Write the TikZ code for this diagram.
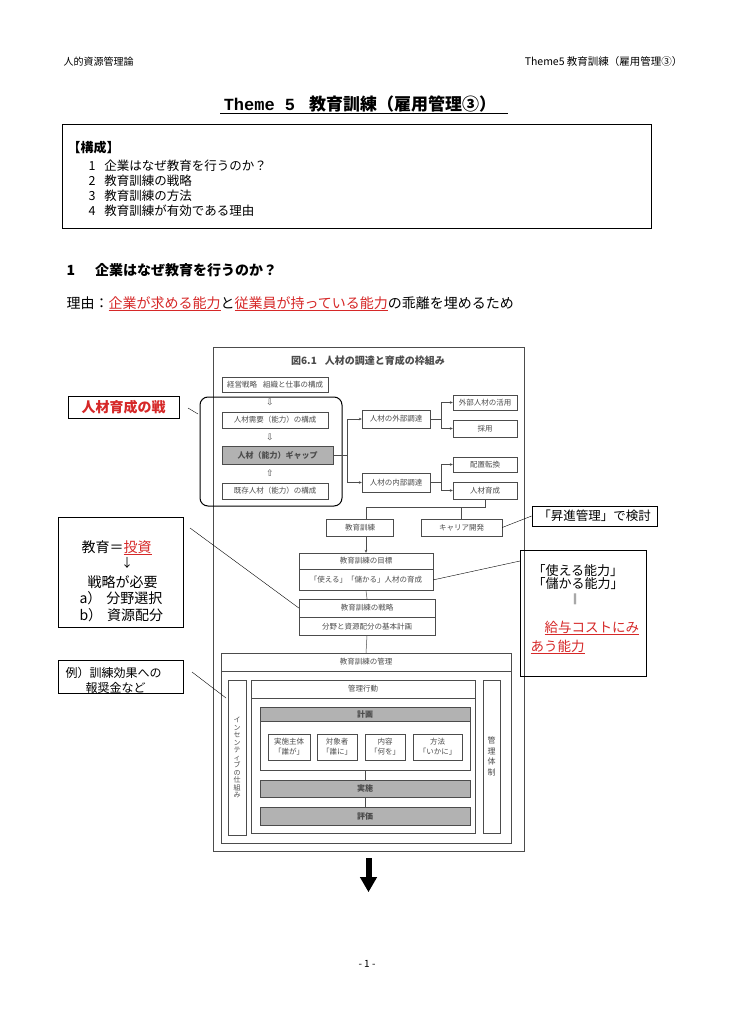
\documentclass[tikz,border=0pt]{standalone}
\usepackage{fontspec}
\setmainfont{Noto Sans CJK JP}
\newfontfamily\arrowfont{DejaVu Sans}
\newfontfamily\themefont{Liberation Mono}
\usetikzlibrary{positioning,arrows.meta}
\definecolor{scan}{gray}{0.3}
\definecolor{hired}{RGB}{214,40,40}
\newcommand{\fsz}[1]{\fontsize{#1}{#1}\selectfont}
\newcommand{\redul}[1]{\textcolor{hired}{\underline{#1}}}

\tikzset{
  sz/.style 2 args={minimum width=#1pt, minimum height=#2pt},
  figbox/.style={draw=scan, text=scan, inner sep=0pt, font=\fsz{7.5}},
  grayfill/.style={figbox, fill=black!30, font=\fsz{8}\bfseries},
  annobox/.style={draw, line width=0.8pt, inner sep=0pt},
  figline/.style={draw=scan, line width=0.5pt},
  figarrow/.style={figline, -{Stealth[length=3pt,width=2.6pt]}},
}

\begin{document}
\begin{tikzpicture}[x=1pt,y=-1pt]
    \fill[white] (0,0) rectangle (728,1030);
    \useasboundingbox (0,0) rectangle (728,1030);

    % Page header and title
    \node[anchor=west, font=\fsz{10}] (hdl) at (60,62) {人的資源管理論};
    \node[anchor=east, font=\fsz{10.5}] (hdr) at (686,62) {Theme5 教育訓練（雇用管理③）};
    \node[font=\fsz{17}\bfseries] (title) at (360,104) {{\themefont Theme 5}\hspace{14pt}教育訓練（雇用管理③）};
    \draw ([yshift=-3pt]title.base west) -- ([yshift=-3pt,xshift=8pt]title.base east);

    % Contents box
    \node[draw, line width=0.8pt, sz={589}{104}, inner sep=0pt] (kosei) at (356.5,176) {};
    \node[anchor=base west, font=\fsz{13}\bfseries] (koseihd) at (64,153) {【構成】};
    \foreach \n/\t in {1/企業はなぜ教育を行うのか？, 2/教育訓練の戦略, 3/教育訓練の方法, 4/教育訓練が有効である理由}
        \node[anchor=base west, font=\fsz{12.5}] (item\n) at (85,{155.5+15*\n}) {\n\hspace{9pt}\t};

    % Section 1
    \node[anchor=base west, font=\fsz{14}\bfseries] (sec1) at (63,275) {1\hspace{20pt}企業はなぜ教育を行うのか？};
    \node[anchor=base west, font=\fsz{14}] (riyu) at (63,308) {理由：\redul{企業が求める能力}と\redul{従業員が持っている能力}の乖離を埋めるため};

    % Figure 6.1
    \node[figbox, sz={311}{504}] (frame) at (368.5,599) {};
    \node[text=scan, font=\fsz{10}\bfseries] (figtitle) at (368,361) {図6.1\hspace{8pt}人材の調達と育成の枠組み};

    % Demand, gap and supply
    \node[figbox, sz={106}{15}] (keiei) at (275,384.5) {経営戦略\hspace{6pt}組織と仕事の構成};
    \node[figbox, sz={106}{16}] (juyo) at (275,420) {人材需要（能力）の構成};
    \node[grayfill, sz={111}{18}] (gap) at (277.5,455) {人材（能力）ギャップ};
    \node[figbox, sz={106}{16}] (kison) at (275,491) {既存人材（能力）の構成};
    \node[text=scan, font=\arrowfont\fsz{9}] (ar1) at (270,402) {⇩};
    \node[text=scan, font=\arrowfont\fsz{9}] (ar2) at (270,437.5) {⇩};
    \node[text=scan, font=\arrowfont\fsz{9}] (ar3) at (270,473.5) {⇧};
    \node[draw, line width=1pt, rounded corners=8pt, sz={142}{109}] (rr) at (271,451.5) {};

    % External and internal procurement
    \node[figbox, sz={68}{18}] (gaibu) at (396,419) {人材の外部調達};
    \node[figbox, sz={68}{19}] (naibu) at (396,482.5) {人材の内部調達};
    \node[figbox, sz={64}{15}] (katsuyo) at (485,402.5) {外部人材の活用};
    \node[figbox, sz={64}{17}] (saiyo) at (485,428.5) {採用};
    \node[figbox, sz={64}{15}] (haichi) at (485,464.5) {配置転換};
    \node[figbox, sz={64}{17}] (ikusei) at (485,490.5) {人材育成};
    \coordinate (b1) at (347,455);
    \coordinate (b2) at (441,419);
    \coordinate (b3) at (441,482.5);
    \draw[figline] (gap.east) -- (b1);
    \draw[figarrow] (b1) |- (gaibu.west);
    \draw[figarrow] (b1) |- (naibu.west);
    \draw[figline] (gaibu.east) -- (b2);
    \draw[figarrow] (b2) |- (katsuyo.west);
    \draw[figarrow] (b2) |- (saiyo.west);
    \draw[figline] (naibu.east) -- (b3);
    \draw[figarrow] (b3) |- (haichi.west);
    \draw[figarrow] (b3) |- (ikusei.west);

    % Training, goal and strategy
    \node[figbox, sz={67}{17}] (kyoiku) at (360,527.5) {教育訓練};
    \node[figbox, sz={81}{17}] (career) at (461.5,527.5) {キャリア開発};
    \node[figbox, sz={134}{16}] (mok1) at (366,561) {教育訓練の目標};
    \node[figbox, sz={134}{21}, anchor=north] (mok2) at (mok1.south) {「使える」「儲かる」人材の育成};
    \node[figbox, sz={136}{18}] (sen1) at (367,608) {教育訓練の戦略};
    \node[figbox, sz={136}{18}, anchor=north] (sen2) at (sen1.south) {分野と資源配分の基本計画};
    \coordinate (b4) at (485,507);
    \draw[figline] (ikusei.south) -- (b4) -| (kyoiku.north -| mok1.north);
    \draw[figline] (b4 -| career.north) -- (career.north);
    \draw[figarrow] (kyoiku.south -| mok1.north) -- (mok1.north);
    \draw[figline] (mok2.south) -- (sen1.north);

    % Management of training
    \node[figbox, sz={290}{190}] (kanri) at (366,748) {};
    \node[figbox, sz={290}{18}, anchor=north] (kanrihd) at (kanri.north) {教育訓練の管理};
    \draw[figline] (sen2.south) -- (kanrihd.north);
    \node[figbox, sz={18}{155}, align=center, font=\fontsize{7}{7.5}\selectfont] (incent) at (237,757.5) {イ\\ン\\セ\\ン\\テ\\ィ\\ブ\\の\\仕\\組\\み};
    \node[figbox, sz={17}{153}, align=center, font=\fontsize{8}{10.5}\selectfont] (taisei) at (491.5,756.5) {管\\理\\体\\制};
    \node[figbox, sz={224}{153}] (kodo) at (363,756.5) {};
    \node[figbox, sz={224}{18}, anchor=north] (kodohd) at (kodo.north) {管理行動};
    \node[grayfill, sz={210}{14}] (keikaku) at (365,714) {計画};
    \node[figbox, sz={210}{49}, anchor=north] (keikakusub) at (keikaku.south) {};
    \node[figbox, sz={42}{26}, align=center, font=\fontsize{7.5}{10}\selectfont] (shutai) at (289,747) {実施主体\\「誰が」};
    \node[figbox, sz={40}{26}, align=center, font=\fontsize{7.5}{10}\selectfont] (taisho) at (337,747) {対象者\\「誰に」};
    \node[figbox, sz={40}{26}, align=center, font=\fontsize{7.5}{10}\selectfont] (naiyo) at (385,747) {内容\\「何を」};
    \node[figbox, sz={49}{26}, align=center, font=\fontsize{7.5}{10}\selectfont] (hoho) at (437.5,747) {方法\\「いかに」};
    \node[grayfill, sz={210}{17}] (jisshi) at (365,788.5) {実施};
    \node[grayfill, sz={210}{18}] (hyoka) at (365,816) {評価};
    \draw[figline] (keikakusub.south) -- (jisshi.north);
    \draw[figline] (jisshi.south) -- (hyoka.north);

    % Notes on the left
    \node[annobox, sz={111}{22}, text=hired, font=\fsz{14}\bfseries] (jinzai) at (123.5,407) {人材育成の戦};
    \coordinate (p1) at (188,408);
    \coordinate (p1e) at (198,414);
    \draw (p1) -- (p1e);
    \node[annobox, sz={125}{110}] (toshi) at (120.5,572) {};
    \node[anchor=base west, font=\fsz{14}] (toshi1) at (78,552) {教育＝\redul{投資}};
    \node[font=\fsz{12}] (toshi2) at (127,563) {↓};
    \node[anchor=base west, font=\fsz{14}] (toshi3) at (84,587) {戦略が必要};
    \node[anchor=base west, font=\fsz{14}] (toshi4) at (76,603) {a）\hspace{5pt}分野選択};
    \node[anchor=base west, font=\fsz{14}] (toshi5) at (76,620) {b）\hspace{5pt}資源配分};
    \coordinate (p2) at (190,528);
    \draw (p2) -- (sen1.west);
    \node[annobox, sz={125}{33}] (rei) at (120.5,676.5) {};
    \node[anchor=base west, font=\fsz{12}] (rei1) at (62,677) {例）訓練効果への};
    \node[anchor=base west, font=\fsz{12}] (rei2) at (82,692) {報奨金など};
    \coordinate (p3) at (192,672);
    \coordinate (p3e) at (226,698);
    \draw (p3) -- (p3e);

    % Notes on the right
    \node[annobox, sz={125}{20}, font=\fsz{12.5}] (shoshin) at (594.5,516) {「昇進管理」で検討};
    \draw (career.east) -- (shoshin.west);
    \node[annobox, sz={126}{126}] (noryoku) at (583,613) {};
    \node[anchor=base west, font=\fsz{13}] (nor1) at (529,575) {「使える能力」};
    \node[anchor=base west, font=\fsz{13}] (nor2) at (529,588) {「儲かる能力」};
    \node[font=\fsz{11}] (nor3) at (575,599) {‖};
    \node[anchor=base west, font=\fsz{13.5}] (nor4) at (541,632) {\redul{給与コストにみ}};
    \node[anchor=base west, font=\fsz{13.5}] (nor5) at (527,651) {\redul{あう能力}};
    \coordinate (p4) at (520,561);
    \draw (mok2.east) -- (p4);

    % Arrow and page number
    \draw[line width=6pt, -{Triangle[length=15pt,width=16pt]}] ([yshift=-7pt]frame.south) -- ++(0,34);
    \node[font=\fsz{10}] (pageno) at (367,964) {- 1 -};
\end{tikzpicture}
\end{document}
